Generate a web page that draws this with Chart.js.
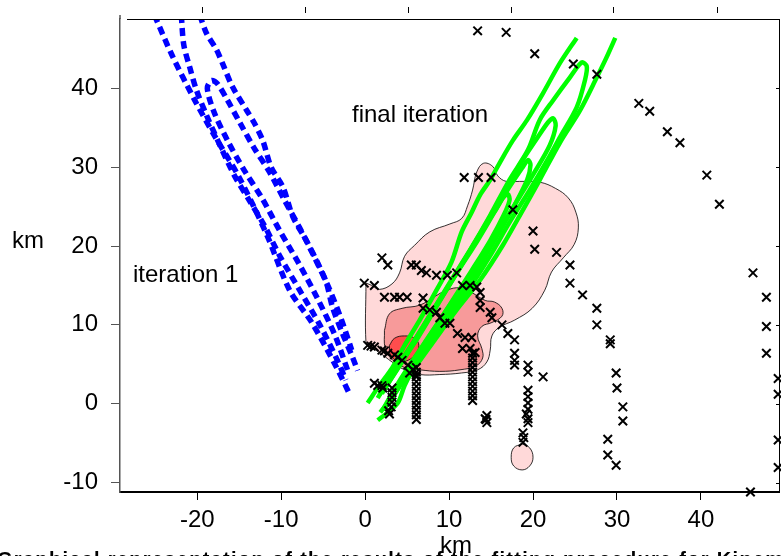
<!DOCTYPE html>
<html>
<head>
<meta charset="utf-8">
<script src="https://cdn.jsdelivr.net/npm/chart.js@4.4.1/dist/chart.umd.min.js"></script>
<style>
  html, body { margin: 0; padding: 0; background: #fff; }
  #wrap { position: relative; width: 781px; height: 556px; overflow: hidden; font-family: "Liberation Sans", Arial, sans-serif; }
  #wrap canvas { position: absolute; left: 0; top: 0; }
  .lbl { position: absolute; font-size: 24px; line-height: 24px; white-space: nowrap; color: #000; }
  .caption { position: absolute; left: -3px; top: 549px; font-size: 20px; line-height: 20px; font-weight: bold; letter-spacing: 1.3px; white-space: nowrap; color: #000; }
</style>
</head>
<body>
<div id="wrap">
  <canvas id="chart" width="781" height="556"></canvas>
  <div class="caption">Graphical representation of the results of the fitting procedure for Kinemi</div>
  <div class="lbl" style="left:12px; top:228px">km</div>
  <div class="lbl" style="left:440px; top:533px">km</div>
  <div class="lbl" style="left:133px; top:262px">iteration 1</div>
  <div class="lbl" style="left:352px; top:102px">final iteration</div>
</div>
<script>
// axis ticks (km)
const xTickValues = [-20, -10, 0, 10, 20, 30, 40]
const yTickValues = [-10, 0, 10, 20, 30, 40]
const topTickKm = [-19.4, -7.2, 5.1, 17.4, 29.5, 41.9]

// station positions [x km, y km]
const stations = [
  [13.4, 47.3], [16.8, 47.1], [20.2, 44.4], [24.8, 43.1], [27.6, 41.8], [32.6, 38.1], [33.9, 37.1],
  [36.0, 34.5], [37.5, 33.1], [40.7, 29.0], [42.2, 25.3],
  [11.8, 28.7], [13.5, 28.7], [15.0, 28.7], [17.6, 24.6], [20.0, 21.9], [20.2, 19.6], [22.8, 19.2],
  [24.4, 17.6], [24.4, 15.3], [25.9, 13.8], [27.6, 12.1], [27.6, 10.0], [29.2, 8.1], [29.2, 7.6],
  [29.9, 3.9], [30.0, 2.0], [30.7, -0.4], [30.7, -2.2], [28.9, -4.5], [28.9, -6.5], [29.9, -7.8], [21.2, 3.4],
  [46.2, 16.6], [47.8, 13.5], [47.8, 9.8], [47.8, 6.4], [49.2, 3.2], [49.2, 1.2], [49.2, -4.6], [49.2, -8.1], [45.9, -11.2],
  [2.0, 18.5], [2.7, 17.6], [-0.1, 15.3], [1.1, 15.0], [2.3, 13.5], [3.5, 13.5], [4.1, 13.5], [5.0, 13.5],
  [5.5, 17.6], [6.1, 17.6], [6.7, 16.9], [7.3, 16.6], [8.5, 16.3], [9.8, 16.3], [10.9, 16.6],
  [6.9, 13.4], [6.9, 12.1], [7.7, 11.9], [8.5, 11.6], [8.9, 10.9], [9.5, 10.2], [10.1, 10.2],
  [11.6, 15.0], [12.5, 15.0], [13.3, 14.8], [13.7, 14.1], [13.7, 13.1], [13.7, 12.2],
  [14.9, 11.6], [15.1, 10.9], [16.3, 10.0], [17.0, 8.9], [17.8, 8.1],
  [11.0, 8.9], [11.9, 8.4], [12.7, 8.4], [11.6, 7.0], [12.5, 7.0], [13.1, 6.5],
  [0.3, 7.4], [0.7, 7.3], [1.1, 7.2], [2.0, 6.8], [2.3, 6.7], [2.7, 6.4], [3.5, 6.2], [3.9, 5.9],
  [4.4, 5.5], [5.1, 4.9], [5.7, 4.3], [6.1, 3.6],
  [17.8, 6.4], [17.8, 5.5], [17.8, 4.9], [5.3, 3.9],
  [6.1, 4.6], [6.1, 4.0], [6.1, 3.4], [6.1, 2.8], [6.1, 2.2], [6.1, 1.6], [6.1, 1.0], [6.1, 0.4],
  [6.1, -0.2], [6.1, -0.8], [6.1, -1.4], [6.1, -2.0],
  [12.8, 6.4], [12.8, 5.8], [12.8, 5.2], [12.8, 4.6], [12.8, 4.0], [12.8, 3.4], [12.8, 2.8],
  [12.8, 2.2], [12.8, 1.6], [12.8, 1.0], [12.8, 0.4],
  [14.5, -1.5], [14.3, -1.9], [14.5, -2.4], [14.4, -2.0],
  [19.4, 4.9], [19.4, 4.0], [19.4, 1.7], [19.4, 0.9], [19.4, 0.1], [19.4, -0.7], [19.2, -1.3],
  [19.4, -1.9], [19.4, -2.4], [18.8, -3.7], [18.9, -4.3], [18.8, -4.9],
  [1.5, 2.3], [2.0, 2.3], [2.1, 2.0], [1.1, 2.6],
  [3.2, 2.0], [3.2, 1.4], [3.2, 0.8], [3.2, 0.2], [3.1, -0.4], [2.8, -0.9], [2.9, -1.3]
]

// final iteration contours (green)
const greenOuterLeft = [
  [0.3, 0.1], [1.7, 2.3], [3.2, 4.5], [4.7, 7.4], [6.5, 10.6], [8.5, 14.4], [10.3, 18.0], [11.5, 21.8],
  [12.7, 24.3], [13.7, 26.5], [14.9, 28.4], [16.0, 30.5], [17.6, 33.4], [19.3, 36.0], [21.2, 39.4],
  [23.2, 43.2], [25.2, 46.4]
]
const greenOuterRight = [
  [29.8, 46.4], [28.7, 43.8], [27.6, 41.4], [25.6, 37.2], [23.2, 33.1], [20.8, 28.4], [18.8, 24.6],
  [16.4, 20.1], [13.7, 15.7], [10.9, 11.9], [8.3, 8.1], [5.5, 3.9], [4.7, 2.3], [3.9, 0.1], [2.7, -1.1], [1.5, -2.1]
]
const greenLoop1 = [
  [1.5, 0.7], [3.5, 4.3], [5.5, 7.4], [7.7, 11.2], [10.1, 15.4], [12.5, 19.5], [14.9, 23.9], [17.2, 28.4],
  [19.4, 32.2], [20.8, 36.0], [22.4, 38.5], [24.4, 41.4], [25.8, 43.3], [26.4, 42.8], [26.2, 41.1],
  [25.2, 37.6], [23.2, 33.8], [21.7, 30.9], [19.6, 27.1], [17.2, 23.0], [14.9, 18.8], [12.5, 14.8],
  [9.8, 10.9], [7.1, 6.8], [4.7, 3.2], [2.9, 0.4], [1.8, -1.1]
]
const greenLoop2 = [
  [1.7, 1.1], [3.9, 4.6], [5.9, 8.1], [8.3, 12.2], [10.7, 16.3], [13.4, 21.0], [16.0, 25.8], [18.4, 30.3],
  [20.5, 33.7], [21.8, 35.7], [22.4, 36.2], [22.7, 35.3], [22.0, 32.8], [20.2, 29.4], [17.8, 25.2],
  [15.4, 21.0], [13.1, 16.9], [10.3, 12.8], [7.7, 8.7], [5.3, 4.9], [3.3, 1.5], [2.1, -0.8]
]
const greenLoop3 = [
  [2.0, 1.3], [4.1, 4.9], [6.3, 8.4], [8.6, 12.5], [11.0, 16.7], [13.4, 20.7], [15.4, 24.3], [17.2, 27.5],
  [18.7, 29.9], [19.4, 30.9], [19.7, 30.3], [19.3, 28.4], [17.8, 25.2], [16.0, 21.8], [13.9, 18.0],
  [11.5, 14.0], [9.1, 10.2], [6.7, 6.5], [4.6, 3.0], [2.9, 0.2], [2.3, -0.6]
]
const greenLoop4 = [
  [2.2, 1.7], [4.4, 5.3], [6.5, 8.9], [8.9, 13.1], [11.3, 17.3], [13.4, 21.0], [15.3, 24.2], [16.4, 26.1],
  [17.0, 26.6], [17.2, 25.8], [16.5, 23.9], [14.9, 20.7], [12.7, 16.9], [10.6, 13.4], [8.3, 9.6],
  [6.0, 5.9], [4.1, 2.6], [2.7, -0.2]
]

// first iteration contours (blue, dashed)
const blueA = [
  [-25.1, 49.3], [-23.0, 44.2], [-20.3, 38.5], [-18.0, 34.1], [-15.0, 28.7], [-11.7, 21.4], [-9.0, 14.4],
  [-6.3, 10.2], [-3.4, 4.6], [-1.8, 1.1]
]
const blueB = [
  [-21.9, 49.3], [-21.6, 45.5], [-20.9, 42.7], [-20.1, 39.8], [-18.9, 36.6], [-17.3, 32.8], [-15.6, 29.0],
  [-13.8, 25.8], [-12.0, 22.6], [-10.2, 18.8], [-7.8, 14.4], [-5.4, 10.0], [-3.3, 5.5], [-2.3, 3.0]
]
const blueC = [
  [-19.7, 49.3], [-18.9, 47.0], [-17.7, 44.9], [-17.0, 43.2], [-15.8, 40.2], [-14.1, 37.2], [-13.2, 35.6],
  [-12.2, 33.4], [-11.2, 30.0], [-9.8, 27.5], [-8.6, 23.7], [-7.0, 20.7], [-5.4, 17.3], [-4.6, 15.3],
  [-3.9, 12.3], [-2.7, 8.9], [-1.5, 5.9], [-0.9, 4.2]
]
const blueLoop = [
  [-2.1, 4.3], [-3.6, 8.7], [-5.7, 13.4], [-7.8, 17.6], [-10.2, 22.0], [-12.3, 26.1], [-14.4, 29.6],
  [-16.4, 33.4], [-18.0, 37.0], [-18.8, 40.0], [-18.3, 41.0], [-17.6, 40.6], [-16.4, 38.5], [-15.0, 35.8],
  [-13.2, 32.4], [-11.4, 29.4], [-9.6, 25.8], [-7.8, 22.3], [-6.0, 18.5], [-4.2, 14.4], [-2.8, 10.6], [-1.6, 6.8]
]

// misfit regions (filled contours)
const regionLow = [
  [0.1, 15.3], [0.8, 15.0], [1.7, 14.5], [3.2, 15.2], [4.1, 16.6], [4.7, 18.7], [5.9, 20.1], [7.7, 21.8],
  [10.1, 22.8], [11.5, 23.5], [12.2, 25.1], [12.8, 27.1], [13.3, 29.4], [14.1, 30.5], [15.2, 30.1],
  [15.8, 28.9], [16.8, 28.2], [18.4, 28.2], [20.8, 28.1], [22.7, 27.3], [24.2, 26.1], [25.1, 24.3],
  [25.4, 22.3], [24.9, 20.2], [23.6, 18.5], [22.2, 16.7], [21.4, 14.4], [19.9, 12.1], [17.8, 10.6],
  [16.0, 9.7], [15.1, 8.6], [14.9, 6.8], [14.5, 5.3], [13.4, 4.3], [11.5, 3.9], [8.9, 3.7], [6.5, 3.7],
  [4.7, 4.3], [3.2, 5.3], [1.7, 6.5], [0.5, 7.3], [0.1, 7.7], [0.1, 15.3]
]
const regionMid = [
  [2.3, 9.3], [2.9, 11.4], [4.4, 12.1], [6.5, 12.5], [8.3, 13.6], [9.7, 14.4], [11.3, 14.7], [12.7, 14.1],
  [14.3, 13.1], [15.4, 12.9], [16.3, 12.1], [16.3, 11.1], [15.1, 10.3], [13.9, 9.8], [13.4, 8.6],
  [13.9, 7.0], [14.0, 5.8], [13.2, 4.8], [11.3, 4.3], [8.9, 4.1], [6.5, 4.3], [4.7, 4.6], [3.3, 5.5],
  [2.4, 7.0], [2.3, 9.3]
]
const regionHigh = [
  [2.9, 7.4], [3.5, 8.3], [4.7, 8.6], [5.9, 8.3], [6.4, 7.4], [6.0, 6.3], [5.1, 5.5], [3.9, 5.4], [3.0, 6.2], [2.9, 7.4]
]
const regionSouth = [
  [18.7, -5.1], [19.6, -5.6], [20.0, -6.8], [19.6, -7.9], [18.7, -8.4], [17.7, -7.9], [17.4, -6.8], [17.7, -5.6], [18.7, -5.1]
]

const toXY = (pts) => pts.map(([x, y]) => ({ x, y }))

const greenLine = (pts) => ({
  data: toXY(pts),
  showLine: true,
  borderColor: "#00ff00",
  borderWidth: 4.5,
  pointRadius: 0,
  tension: 0.3,
  fill: false,
})

const blueLine = (pts) => ({
  data: toXY(pts),
  showLine: true,
  borderColor: "#0000ff",
  borderWidth: 5.5,
  borderDash: [8, 5],
  pointRadius: 0,
  tension: 0.3,
  fill: false,
})

const region = (pts, color) => ({
  data: toXY(pts),
  showLine: true,
  borderColor: "#000",
  borderWidth: 0.8,
  backgroundColor: color,
  pointRadius: 0,
  tension: 0.4,
  fill: "shape",
})

// top and right frame with their small ticks
const framePlugin = {
  id: "frame",
  afterDraw(chart) {
    const { ctx, chartArea: a, scales } = chart
    ctx.save()
    ctx.strokeStyle = "#000"
    ctx.lineWidth = 1
    ctx.beginPath()
    ctx.moveTo(a.left + 7, a.top + 0.5)
    ctx.lineTo(a.right, a.top + 0.5)
    ctx.moveTo(a.right + 0.5, a.top)
    ctx.lineTo(a.right + 0.5, a.bottom)
    topTickKm.forEach((v) => {
      const px = Math.round(scales.x.getPixelForValue(v)) + 0.5
      ctx.moveTo(px, a.top - 12)
      ctx.lineTo(px, a.top - 6)
    })
    yTickValues.forEach((v) => {
      const py = Math.round(scales.y.getPixelForValue(v)) + 0.5
      ctx.moveTo(a.right - 3, py)
      ctx.lineTo(a.right, py)
    })
    ctx.stroke()
    // left axis runs a little past the top edge
    ctx.strokeStyle = "#555"
    ctx.lineWidth = 1.5
    ctx.beginPath()
    ctx.moveTo(a.left, a.top - 4)
    ctx.lineTo(a.left, a.top)
    ctx.stroke()
    ctx.restore()
  },
}

const tickFont = { family: '"Liberation Sans", Arial, sans-serif', size: 24 }

new Chart(document.getElementById("chart"), {
  type: "scatter",
  data: {
    datasets: [
      {
        data: toXY(stations),
        pointStyle: "crossRot",
        pointRadius: 6,
        borderColor: "#000",
        borderWidth: 2,
        clip: false,
      },
      greenLine(greenOuterLeft),
      greenLine(greenOuterRight),
      greenLine(greenLoop1),
      greenLine(greenLoop2),
      greenLine(greenLoop3),
      greenLine(greenLoop4),
      blueLine(blueA),
      blueLine(blueB),
      blueLine(blueC),
      blueLine(blueLoop),
      region(regionHigh, "#ff4d4d"),
      region(regionMid, "#f79a9a"),
      region(regionLow, "#ffd9d9"),
      region(regionSouth, "#ffd9d9"),
    ],
  },
  options: {
    responsive: false,
    devicePixelRatio: 1,
    animation: false,
    layout: { autoPadding: false, padding: { top: 19, right: 2, left: 0, bottom: 0 } },
    plugins: { legend: { display: false }, tooltip: { enabled: false } },
    scales: {
      x: {
        type: "linear",
        position: "bottom",
        min: -29.2,
        max: 49.3,
        afterBuildTicks: (s) => { s.ticks = xTickValues.map((value) => ({ value })) },
        afterFit: (s) => {
          s.height = 64
          s.paddingLeft = 0
          s.paddingRight = 0
        },
        ticks: { color: "#000", font: tickFont, padding: 6, maxRotation: 0, autoSkip: false },
        grid: { drawOnChartArea: false, tickLength: 8, tickColor: "#000", tickWidth: 1 },
        border: { color: "#000", width: 2 },
      },
      y: {
        type: "linear",
        position: "left",
        min: -11.2,
        max: 48.8,
        afterBuildTicks: (s) => { s.ticks = yTickValues.map((value) => ({ value })) },
        afterFit: (s) => {
          s.width = 120
          s.paddingTop = 0
          s.paddingBottom = 0
        },
        ticks: { color: "#000", font: tickFont, padding: 13, autoSkip: false },
        grid: { drawOnChartArea: false, tickLength: 9, tickColor: "#555", tickWidth: 1 },
        border: { color: "#555", width: 1.5 },
      },
    },
  },
  plugins: [framePlugin],
})
</script>
</body>
</html>
